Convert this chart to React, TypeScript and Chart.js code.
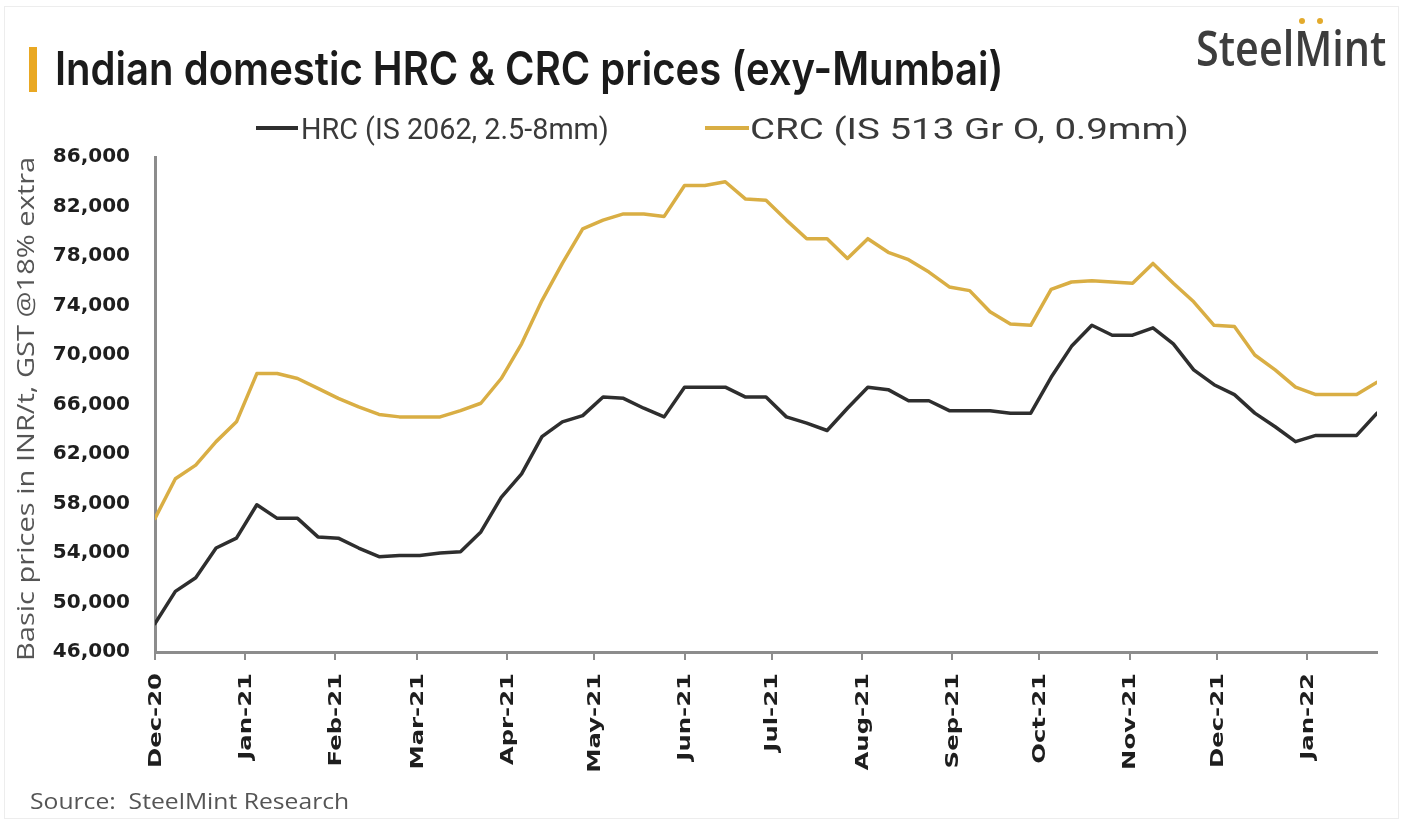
import React, { useEffect, useRef } from 'react';
import { Chart, registerables } from 'chart.js';

Chart.register(...registerables);

// ---------- data ----------
const DATES = [
  '2020-12-01', '2020-12-08', '2020-12-15', '2020-12-22', '2020-12-29',
  '2021-01-05', '2021-01-12', '2021-01-19', '2021-01-26',
  '2021-02-02', '2021-02-09', '2021-02-16', '2021-02-23',
  '2021-03-02', '2021-03-09', '2021-03-16', '2021-03-23', '2021-03-30',
  '2021-04-06', '2021-04-13', '2021-04-20', '2021-04-27',
  '2021-05-04', '2021-05-11', '2021-05-18', '2021-05-25',
  '2021-06-01', '2021-06-08', '2021-06-15', '2021-06-22', '2021-06-29',
  '2021-07-06', '2021-07-13', '2021-07-20', '2021-07-27',
  '2021-08-03', '2021-08-10', '2021-08-17', '2021-08-24', '2021-08-31',
  '2021-09-07', '2021-09-14', '2021-09-21', '2021-09-28',
  '2021-10-05', '2021-10-12', '2021-10-19', '2021-10-26',
  '2021-11-02', '2021-11-09', '2021-11-16', '2021-11-23', '2021-11-30',
  '2021-12-07', '2021-12-14', '2021-12-21', '2021-12-28',
  '2022-01-04', '2022-01-11', '2022-01-18', '2022-01-25',
];

const HRC = [
  48300, 50900, 52000, 54400, 55200,
  57900, 56800, 56800, 55300,
  55200, 54400, 53700, 53800,
  53800, 54000, 54100, 55700, 58500,
  60400, 63400, 64600, 65100,
  66600, 66500, 65700, 65000,
  67400, 67400, 67400, 66600, 66600,
  65000, 64500, 63900, 65700,
  67400, 67200, 66300, 66300, 65500,
  65500, 65500, 65300, 65300,
  68200, 70700, 72400, 71600,
  71600, 72200, 70900, 68800, 67600,
  66800, 65300, 64200, 63000,
  63500, 63500, 63500, 65300,
];

const CRC = [
  56800, 60000, 61100, 63000, 64600,
  68500, 68500, 68100, 67300,
  66500, 65800, 65200, 65000,
  65000, 65000, 65500, 66100, 68100,
  70900, 74400, 77400, 80200,
  80900, 81400, 81400, 81200,
  83700, 83700, 84000, 82600, 82500,
  80900, 79400, 79400, 77800,
  79400, 78300, 77700, 76700, 75500,
  75200, 73500, 72500, 72400,
  75300, 75900, 76000, 75900,
  75800, 77400, 75800, 74300, 72400,
  72300, 70000, 68800, 67400,
  66800, 66800, 66800, 67800,
];

const MONTH_TICKS = [
  '2020-12-01', '2021-01-01', '2021-02-01', '2021-03-01', '2021-04-01',
  '2021-05-01', '2021-06-01', '2021-07-01', '2021-08-01', '2021-09-01',
  '2021-10-01', '2021-11-01', '2021-12-01', '2022-01-01',
];
const MONTH_LABELS = [
  'Dec-20', 'Jan-21', 'Feb-21', 'Mar-21', 'Apr-21', 'May-21', 'Jun-21',
  'Jul-21', 'Aug-21', 'Sep-21', 'Oct-21', 'Nov-21', 'Dec-21', 'Jan-22',
];

const Y_MIN = 46000;
const Y_MAX = 86000;
const Y_STEP = 4000;

const TITLE = 'Indian domestic HRC & CRC prices (exy-Mumbai)';
const HRC_NAME = 'HRC (IS 2062, 2.5-8mm)';
const CRC_NAME = 'CRC (IS 513 Gr O, 0.9mm)';
const Y_TITLE = 'Basic prices in INR/t, GST @18% extra';
const SOURCE = 'Source:  SteelMint Research';
const BRAND = 'SteelMint';

// ---------- styles ----------
const HRC_COLOR = '#2e2e2e';
const CRC_COLOR = '#d9ae44';
const AXIS_COLOR = '#8c8c8c';
const W = 1403;
const H = 823;
const PLOT = { left: 155, right: 1377, top: 157, bottom: 652 };

const ORIGIN = Date.parse('2020-12-01T00:00:00Z');
const dayOf = (s: string) => Math.round((Date.parse(s + 'T00:00:00Z') - ORIGIN) / 86400000);

let measureCtx: CanvasRenderingContext2D | null = null;
function mctx(): CanvasRenderingContext2D {
  if (!measureCtx) measureCtx = document.createElement('canvas').getContext('2d');
  return measureCtx as CanvasRenderingContext2D;
}

type TxtProps = {
  text: string; x1: number; x2: number; capTop: number; baseline: number;
  family: string; weight: number; size: number; color: string;
};

function Txt({ text, x1, x2, capTop, baseline, family, weight, size, color }: TxtProps) {
  const ctx = mctx();
  const font = `${weight} ${size}px ${family}`;
  ctx.font = font;
  const m = ctx.measureText(text);
  const capH = ctx.measureText('H').actualBoundingBoxAscent || size * 0.72;
  const inkW = (m.actualBoundingBoxLeft + m.actualBoundingBoxRight) || m.width;
  const lh = Math.round(size * 1.5);
  const fa = m.fontBoundingBoxAscent || size * 0.95;
  const fd = m.fontBoundingBoxDescent || size * 0.25;
  const baseLocal = (lh - (fa + fd)) / 2 + fa;
  const sx = (x2 - x1) / inkW;
  const sy = (baseline - capTop) / capH;
  return (
    <div
      style={{
        position: 'absolute',
        left: x1 + sx * (m.actualBoundingBoxLeft || 0),
        top: baseline - sy * baseLocal,
        font,
        lineHeight: lh + 'px',
        height: lh,
        whiteSpace: 'pre',
        color,
        transform: `scale(${sx}, ${sy})`,
        transformOrigin: '0 0',
      }}
    >
      {text}
    </div>
  );
}

const xLabelPlugin = {
  id: 'monthLabels',
  afterDraw(chart: any) {
    const { ctx } = chart;
    const xs = chart.scales.x;
    ctx.save();
    ctx.font = 'bold 18px "DejaVu Sans"';
    ctx.fillStyle = '#1e1e1e';
    const ref = ctx.measureText('Dec-20');
    const refW = ref.actualBoundingBoxLeft + ref.actualBoundingBoxRight || ref.width;
    const k = 93 / refW;
    MONTH_TICKS.forEach((d, i) => {
      const x = xs.getPixelForValue(dayOf(d));
      ctx.save();
      ctx.translate(x + 1, PLOT.bottom + 21);
      ctx.rotate(-Math.PI / 2);
      ctx.scale(k, 1);
      ctx.textAlign = 'right';
      ctx.textBaseline = 'middle';
      ctx.fillText(MONTH_LABELS[i], 0, 0);
      ctx.restore();
    });
    ctx.restore();
  },
};

function ChartCanvas() {
  const ref = useRef<HTMLCanvasElement | null>(null);
  useEffect(() => {
    if (!ref.current) return;
    const chart = new Chart(ref.current, {
      type: 'line',
      data: {
        datasets: [
          {
            label: HRC_NAME,
            data: DATES.map((d, i) => ({ x: dayOf(d), y: HRC[i] })),
            borderColor: HRC_COLOR,
            borderWidth: 3.5,
            pointRadius: 0,
            tension: 0,
            fill: false,
            borderJoinStyle: 'round',
            borderCapStyle: 'round',
          },
          {
            label: CRC_NAME,
            data: DATES.map((d, i) => ({ x: dayOf(d), y: CRC[i] })),
            borderColor: CRC_COLOR,
            borderWidth: 3.5,
            pointRadius: 0,
            tension: 0,
            fill: false,
            borderJoinStyle: 'round',
            borderCapStyle: 'round',
          },
        ],
      },
      options: {
        responsive: false,
        animation: false,
        devicePixelRatio: 1,
        layout: {
          padding: { left: 0, right: W - PLOT.right, top: PLOT.top, bottom: H - PLOT.bottom - 40 },
        },
        plugins: {
          legend: { display: false },
          tooltip: { enabled: false },
          title: { display: false },
        },
        scales: {
          x: {
            type: 'linear',
            min: 0,
            max: dayOf(DATES[DATES.length - 1]),
            afterBuildTicks: (s: any) => {
              s.ticks = MONTH_TICKS.map((d) => ({ value: dayOf(d) }));
            },
            afterFit: (s: any) => {
              s.height = 40;
            },
            ticks: { display: false },
            grid: { drawOnChartArea: false, drawTicks: true, tickLength: 8, color: AXIS_COLOR, lineWidth: 2 },
            border: { display: true, color: AXIS_COLOR, width: 3 },
          },
          y: {
            min: Y_MIN,
            max: Y_MAX,
            afterFit: (s: any) => {
              s.width = PLOT.left;
            },
            ticks: {
              stepSize: Y_STEP,
              padding: 25,
              color: '#1e1e1e',
              font: { family: '"DejaVu Sans"', size: 20, weight: 'bold' },
              callback: (v: any) => Number(v).toLocaleString('en-US'),
            },
            grid: { drawOnChartArea: false, drawTicks: false },
            border: { display: true, color: AXIS_COLOR, width: 3 },
          },
        },
      },
      plugins: [xLabelPlugin],
    } as any);
    return () => chart.destroy();
  }, []);
  return (
    <canvas
      ref={ref}
      width={W}
      height={H}
      style={{ position: 'absolute', left: 0, top: 0, width: W, height: H }}
    />
  );
}

export default function App() {
  const sans = '"Open Sans", sans-serif';
  return (
    <div
      style={{
        position: 'absolute', left: 0, top: 0, width: W, height: H,
        background: '#ffffff', overflow: 'hidden',
      }}
    >
      <div style={{ position: 'absolute', left: 4, top: 6, width: 1393, height: 811, border: '1px solid #ededed' }} />
      <ChartCanvas />
      {/* title bar */}
      <div style={{ position: 'absolute', left: 29, top: 47, width: 8, height: 45, background: '#e9a823' }} />
      <Txt text={TITLE} x1={57} x2={1000} capTop={51} baseline={85} family='Inter, sans-serif' weight={600} size={34} color='#1b1b1b' />
      {/* brand */}
      <Txt text={BRAND} x1={1197} x2={1386} capTop={32} baseline={67} family={sans} weight={600} size={36} color='#3d3d3d' />
      <div style={{ position: 'absolute', left: 1299, top: 18, width: 6, height: 6, borderRadius: 3, background: '#e3aa2c' }} />
      <div style={{ position: 'absolute', left: 1317, top: 18, width: 6, height: 6, borderRadius: 3, background: '#e3aa2c' }} />
      {/* legend */}
      <div style={{ position: 'absolute', left: 256, top: 126, width: 42, height: 4, background: HRC_COLOR }} />
      <Txt text={HRC_NAME} x1={302} x2={607} capTop={118} baseline={139} family='Roboto, sans-serif' weight={400} size={24} color='#3a3a3a' />
      <div style={{ position: 'absolute', left: 705, top: 126, width: 44, height: 4, background: CRC_COLOR }} />
      <Txt text={CRC_NAME} x1={752} x2={1187} capTop={118} baseline={139} family='Roboto, sans-serif' weight={400} size={24} color='#3a3a3a' />
      {/* y axis title (rotated) */}
      <div style={{ position: 'absolute', left: 0, top: H, width: 0, height: 0, transform: 'rotate(-90deg)', transformOrigin: '0 0' }}>
        <Txt text={Y_TITLE} x1={H - 658} x2={H - 158} capTop={17} baseline={34} family={sans} weight={400} size={22} color='#555555' />
      </div>
      {/* source */}
      <Txt text={SOURCE} x1={31} x2={348} capTop={791} baseline={808} family={sans} weight={400} size={21} color='#555555' />
    </div>
  );
}
